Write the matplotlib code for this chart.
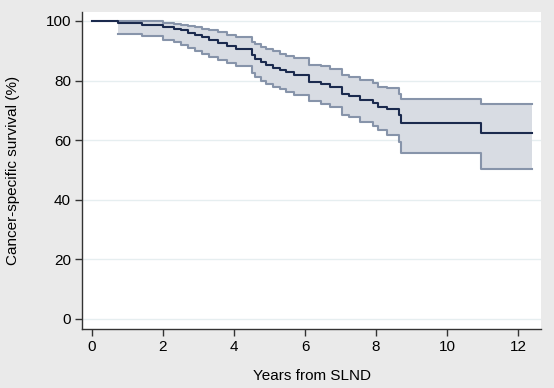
import matplotlib
matplotlib.use("Agg")
import matplotlib.pyplot as plt

# Kaplan-Meier estimate with 95% CI (step functions, values in %)
years = [0.0, 0.72, 1.4, 2.0, 2.3, 2.5, 2.7, 2.9, 3.1, 3.3, 3.55, 3.8, 4.05,
         4.5, 4.6, 4.75, 4.9, 5.1, 5.3, 5.45, 5.7, 6.1, 6.45, 6.7, 7.05, 7.25,
         7.55, 7.9, 8.05, 8.3, 8.65, 8.7, 10.95, 12.4]
surv = [100, 99.3, 98.8, 97.9, 97.3, 96.8, 95.9, 95.3, 94.5, 93.7, 92.6, 91.6,
        90.6, 88.6, 87.4, 86.3, 85.2, 84.3, 83.5, 82.8, 81.8, 79.6, 78.9, 77.9,
        75.4, 74.8, 73.6, 72.4, 71.2, 70.3, 68.3, 65.7, 62.4, 62.4]
ci_years = years[1:]
lower = [95.6, 95.0, 93.6, 92.8, 92.0, 91.0, 90.0, 89.0, 88.0, 87.0, 85.8,
         84.8, 82.5, 81.3, 80.0, 78.8, 78.0, 77.0, 76.2, 75.2, 73.0, 72.2,
         71.0, 68.4, 67.6, 66.2, 64.8, 63.3, 61.8, 59.3, 55.6, 50.4, 50.4]
upper = [100, 100, 99.4, 99.1, 98.8, 98.3, 97.9, 97.4, 96.8, 96.2, 95.3, 94.6,
         93.0, 92.3, 91.4, 90.5, 89.8, 89.0, 88.3, 87.5, 85.3, 84.8, 84.0,
         81.8, 81.2, 80.2, 79.2, 78.0, 77.4, 75.5, 73.7, 72.0, 72.0]

FAM = ["Liberation Sans", "DejaVu Sans"]
plt.rcParams["font.family"] = FAM

BG = "#EAEAEA"
fig = plt.figure(figsize=(5.54, 3.88), dpi=100, facecolor=BG)
ax = fig.add_axes([0.148, 0.152, 0.829, 0.817])
ax.set_facecolor("white")

ax.fill_between(ci_years, lower, upper, step="post", color="#D8DCE3", lw=0, zorder=1)
ax.step(ci_years, lower, where="post", color="#8794AA", lw=1.5, zorder=2)
ax.step(ci_years, upper, where="post", color="#8794AA", lw=1.5, zorder=2)
ax.step(years, surv, where="post", color="#1B2A4E", lw=1.5, zorder=3)

ax.set_xlim(-0.28, 12.65)
ax.set_ylim(-3.4, 103)
ax.set_xticks(range(0, 13, 2))
ax.set_yticks(range(0, 101, 20))
ax.grid(axis="y", color="#E6EEF0", lw=1.0, zorder=0)
ax.set_axisbelow(True)

for s in ("top", "right"):
    ax.spines[s].set_visible(False)
for s in ("left", "bottom"):
    ax.spines[s].set_color("#333333")
    ax.spines[s].set_linewidth(1.0)

ax.tick_params(direction="out", length=5, width=1, color="#333333",
               labelsize=11, labelcolor="black", pad=3)

ax.set_xlabel("Years from SLND", fontsize=11)
ax.xaxis.set_label_coords(0.5, -0.125)
ax.set_ylabel("Cancer-specific survival (%)", fontsize=11)
ax.yaxis.set_label_coords(-0.135, 0.5)

fig.savefig("out.png", dpi=100, facecolor=BG)
